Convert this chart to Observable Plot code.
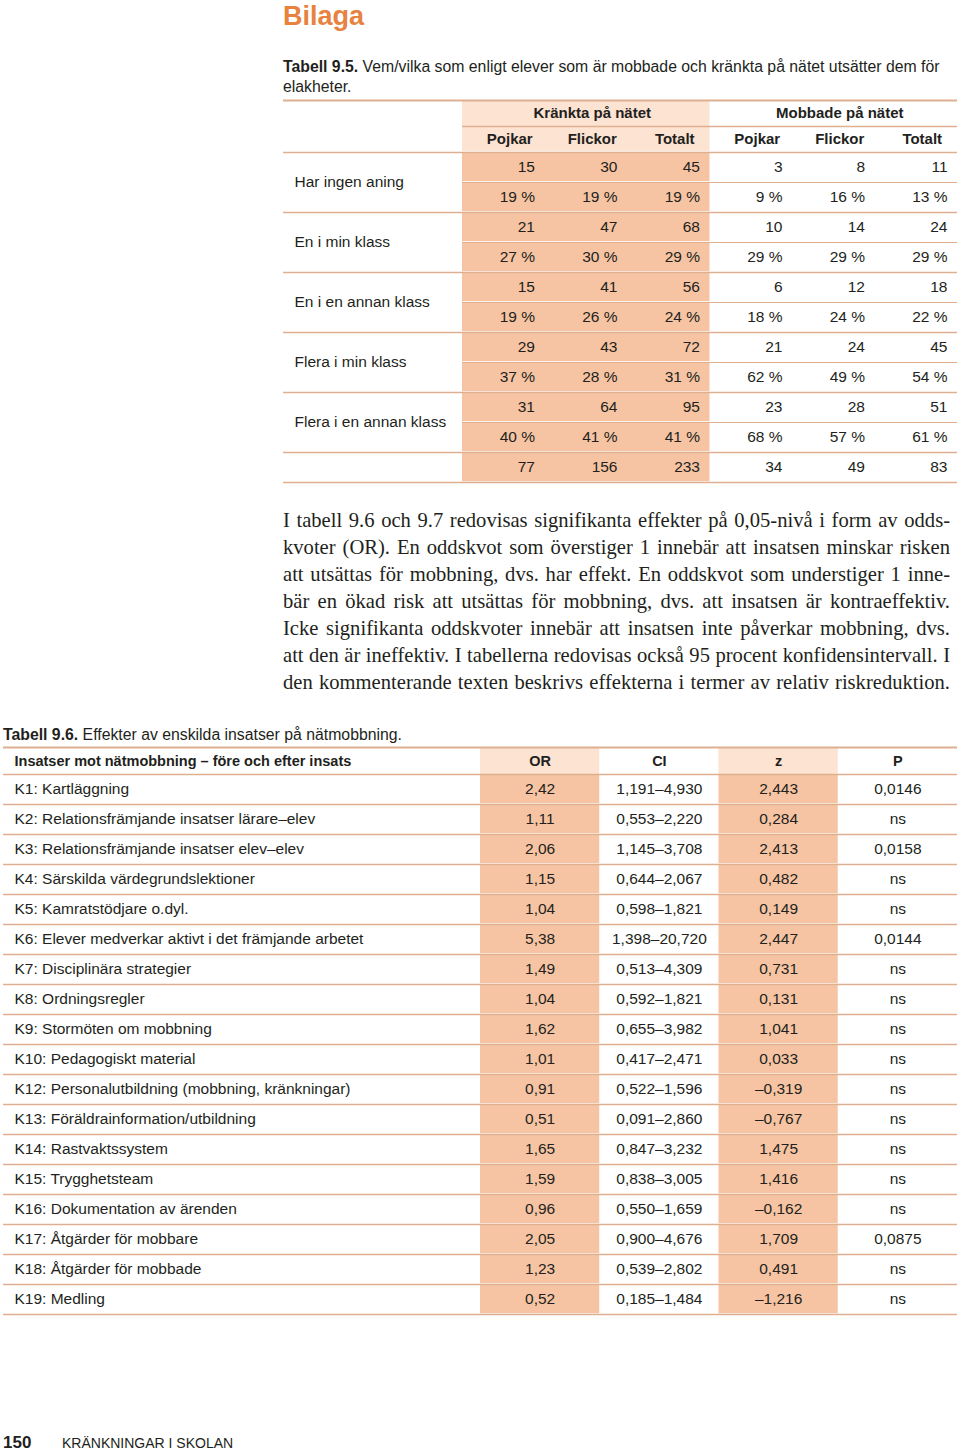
<!DOCTYPE html>
<html><head><meta charset="utf-8">
<script src="https://cdn.jsdelivr.net/npm/d3@7"></script>
<script src="https://cdn.jsdelivr.net/npm/@observablehq/plot@0.6"></script>
<style>
body{margin:0;background:#fff;}
#page{position:relative;width:960px;height:1455px;overflow:hidden;font-family:"Liberation Sans",Arial,sans-serif;color:#231f20;}
.abs{position:absolute;}
.abs svg{display:block;}
#title{left:283px;top:0px;font-size:27px;font-weight:bold;color:#e8823f;line-height:32px;}
#cap5{left:283px;top:57px;width:676px;font-size:15.8px;line-height:20px;}
#cap6{left:3px;top:725px;width:900px;font-size:15.8px;line-height:20px;}
#para{left:283px;top:507px;width:667px;font-family:"Liberation Serif","DejaVu Serif",serif;font-size:20.6px;line-height:27px;}
#para div{text-align:justify;text-align-last:justify;white-space:nowrap;}
#foot{left:3px;top:1433px;font-size:14px;line-height:20px;}
#foot b{font-size:17px;display:inline-block;width:59px;}
</style></head><body><div id="page">
<div id="title" class="abs">Bilaga</div>
<div id="cap5" class="abs"><b>Tabell 9.5.</b> Vem/vilka som enligt elever som är mobbade och kränkta på nätet utsätter dem för<br>elakheter.</div>
<div id="t5h" class="abs" style="left:0;top:99px"></div>
<div id="t5b" class="abs" style="left:0;top:151px"></div>
<div id="para" class="abs">
<div>I tabell 9.6 och 9.7 redovisas signifikanta effekter på 0,05-nivå i form av odds-</div>
<div>kvoter (OR). En oddskvot som överstiger 1 innebär att insatsen minskar risken</div>
<div>att utsättas för mobbning, dvs. har effekt. En oddskvot som understiger 1 inne-</div>
<div>bär en ökad risk att utsättas för mobbning, dvs. att insatsen är kontraeffektiv.</div>
<div>Icke signifikanta oddskvoter innebär att insatsen inte påverkar mobbning, dvs.</div>
<div>att den är ineffektiv. I tabellerna redovisas också 95 procent konfidensintervall. I</div>
<div>den kommenterande texten beskrivs effekterna i termer av relativ riskreduktion.</div>
</div>
<div id="cap6" class="abs"><b>Tabell 9.6.</b> Effekter av enskilda insatser på nätmobbning.</div>
<div id="t6h" class="abs" style="left:0;top:746px"></div>
<div id="t6b" class="abs" style="left:0;top:773px"></div>
<div id="foot" class="abs"><b>150</b>KRÄNKNINGAR I SKOLAN</div>
</div>
<script>
// ---------- Table 9.5 data ----------
const sections = ["Kränkta på nätet", "Mobbade på nätet"];
const subCols = ["Pojkar", "Flickor", "Totalt"];
const groups = ["Har ingen aning", "En i min klass", "En i en annan klass", "Flera i min klass", "Flera i en annan klass"];
const counts = [
  [15, 30, 45, 3, 8, 11],
  [21, 47, 68, 10, 14, 24],
  [15, 41, 56, 6, 12, 18],
  [29, 43, 72, 21, 24, 45],
  [31, 64, 95, 23, 28, 51]
];
const percents = [
  [19, 19, 19, 9, 16, 13],
  [27, 30, 29, 29, 29, 29],
  [19, 26, 24, 18, 24, 22],
  [37, 28, 31, 62, 49, 54],
  [40, 41, 41, 68, 57, 61]
];
const totals = [77, 156, 233, 34, 49, 83];

// ---------- Table 9.6 data ----------
const insatsHeader = "Insatser mot nätmobbning – före och efter insats";
const statCols = ["OR", "CI", "z", "P"];
const insatser = ["K1: Kartläggning", "K2: Relationsfrämjande insatser lärare–elev", "K3: Relationsfrämjande insatser elev–elev", "K4: Särskilda värdegrundslektioner", "K5: Kamratstödjare o.dyl.", "K6: Elever medverkar aktivt i det främjande arbetet", "K7: Disciplinära strategier", "K8: Ordningsregler", "K9: Stormöten om mobbning", "K10: Pedagogiskt material", "K12: Personalutbildning (mobbning, kränkningar)", "K13: Föräldrainformation/utbildning", "K14: Rastvaktssystem", "K15: Trygghetsteam", "K16: Dokumentation av ärenden", "K17: Åtgärder för mobbare", "K18: Åtgärder för mobbade", "K19: Medling"];
const oddsRatio = [2.42, 1.11, 2.06, 1.15, 1.04, 5.38, 1.49, 1.04, 1.62, 1.01, 0.91, 0.51, 1.65, 1.59, 0.96, 2.05, 1.23, 0.52];
const ciLow = [1.191, 0.553, 1.145, 0.644, 0.598, 1.398, 0.513, 0.592, 0.655, 0.417, 0.522, 0.091, 0.847, 0.838, 0.550, 0.900, 0.539, 0.185];
const ciHigh = [4.930, 2.220, 3.708, 2.067, 1.821, 20.720, 4.309, 1.821, 3.982, 2.471, 1.596, 2.860, 3.232, 3.005, 1.659, 4.676, 2.802, 1.484];
const zValue = [2.443, 0.284, 2.413, 0.482, 0.149, 2.447, 0.731, 0.131, 1.041, 0.033, -0.319, -0.767, 1.475, 1.416, -0.162, 1.709, 0.491, -1.216];
const pValue = [0.0146, null, 0.0158, null, null, 0.0144, null, null, null, null, null, null, null, null, null, 0.0875, null, null];

// ---------- styles ----------
const INK = "#231f20";
const SHADE = "#f6c4a2";
const LIGHT = "#fce3d2";
const LINE = "#dfb08f";
const FONT = {fontFamily: "'Liberation Sans', Arial, sans-serif", fontSize: "15.5px", color: INK, background: "transparent", overflow: "visible"};

const loc = d3.formatLocale({decimal: ",", thousands: "\u00a0", grouping: [3], currency: ["", " kr"], minus: "\u2013"});
const f2 = loc.format(".2f"), f3 = loc.format(".3f"), f4 = loc.format(".4f");

// ---------- Table 9.5 ----------
const nCols = sections.length * subCols.length;
const rows5 = [];
groups.forEach((g, i) => { rows5.push(counts[i].map(String)); rows5.push(percents[i].map(v => v + "\u00a0%")); });
rows5.push(totals.map(String));
const cells5 = rows5.flatMap((vals, r) => vals.map((label, c) => ({r, c, label})));
const shadeRows5 = d3.range(rows5.length);
const fullRules5 = d3.range(rows5.length + 1).filter(i => i % 2 === 0 || i === rows5.length);
const partRules5 = d3.range(rows5.length).filter(i => i % 2 === 1);
const x5 = {type: "linear", domain: [0, nCols], range: [462, 957], axis: null};

const head5 = Plot.plot({
  width: 960, height: 54, marginLeft: 283, marginRight: 3, marginTop: 1, marginBottom: 1,
  style: FONT,
  x: x5, y: {domain: [0, 2], reverse: true, axis: null},
  marks: [
    Plot.rect([0], {x1: () => 0, x2: () => subCols.length, y1: () => 0, y2: () => 2, fill: LIGHT, insetBottom: 0.8}),
    Plot.ruleY([0], {y: d => d, stroke: LINE, strokeWidth: 2}),
    Plot.ruleY([1], {y: d => d, x1: () => 0, x2: () => nCols, stroke: LINE, strokeWidth: 1.5}),
    Plot.text(sections, {x: (d, i) => i * subCols.length + subCols.length / 2, y: () => 0.5, text: d => d, fontWeight: "bold", fontSize: 15, dx: 6}),
    Plot.text(d3.range(nCols), {x: c => c + 0.5, y: () => 1.5, text: c => subCols[c % subCols.length], fontWeight: "bold", fontSize: 15, dx: 6})
  ]
});
document.getElementById("t5h").appendChild(head5);

const body5 = Plot.plot({
  width: 960, height: rows5.length * 30 + 3, marginLeft: 283, marginRight: 3, marginTop: 1, marginBottom: 2,
  style: FONT,
  x: x5, y: {domain: [0, rows5.length], reverse: true, axis: null},
  marks: [
    Plot.rect(shadeRows5, {x1: () => 0, x2: () => subCols.length, y1: r => r, y2: r => r + 1, fill: SHADE, insetTop: 0.8, insetBottom: 0.8}),
    Plot.ruleY(fullRules5, {y: d => d, stroke: LINE, strokeWidth: 1.5}),
    Plot.ruleY(partRules5, {y: d => d, x1: () => 0, x2: () => nCols, stroke: LINE, strokeWidth: 1.2}),
    Plot.text(cells5, {x: d => d.c + 1, y: d => d.r + 0.5, text: "label", textAnchor: "end", dx: -10}),
    Plot.text(groups, {y: (d, i) => 2 * i + 1, text: d => d, frameAnchor: "left", textAnchor: "start", dx: 11})
  ]
});
document.getElementById("t5b").appendChild(body5);

// ---------- Table 9.6 ----------
const rows6 = insatser.map((name, i) => ({
  name,
  vals: [f2(oddsRatio[i]), f3(ciLow[i]) + "\u2013" + f3(ciHigh[i]), f3(zValue[i]), pValue[i] == null ? "ns" : f4(pValue[i])]
}));
const cells6 = rows6.flatMap((row, r) => row.vals.map((label, c) => ({r, c, label})));
const shadedCols6 = [0, 2];
const shade6 = d3.range(rows6.length).flatMap(r => shadedCols6.map(c => ({r, c})));
const x6 = {type: "linear", domain: [0, statCols.length], range: [480, 957], axis: null};

const head6 = Plot.plot({
  width: 960, height: 29, marginLeft: 3, marginRight: 3, marginTop: 1, marginBottom: 1,
  style: FONT,
  x: x6, y: {domain: [0, 1], reverse: true, axis: null},
  marks: [
    Plot.rect(shadedCols6, {x1: c => c, x2: c => c + 1, y1: () => 0, y2: () => 1, fill: LIGHT, insetTop: 0.8}),
    Plot.ruleY([0], {y: d => d, stroke: LINE, strokeWidth: 2}),
    Plot.text(statCols, {x: (d, i) => i + 0.5, y: () => 0.5, text: d => d, fontWeight: "bold", fontSize: 14.5}),
    Plot.text([insatsHeader], {y: () => 0.5, text: d => d, fontWeight: "bold", fontSize: 14.5, frameAnchor: "left", textAnchor: "start", dx: 11})
  ]
});
document.getElementById("t6h").appendChild(head6);

const body6 = Plot.plot({
  width: 960, height: rows6.length * 30 + 3, marginLeft: 3, marginRight: 3, marginTop: 1, marginBottom: 2,
  style: FONT,
  x: x6, y: {domain: [0, rows6.length], reverse: true, axis: null},
  marks: [
    Plot.rect(shade6, {x1: d => d.c, x2: d => d.c + 1, y1: d => d.r, y2: d => d.r + 1, fill: SHADE, insetTop: 0.8, insetBottom: 0.8}),
    Plot.ruleY(d3.range(rows6.length + 1), {y: d => d, stroke: LINE, strokeWidth: 1.5}),
    Plot.text(cells6, {x: d => d.c + 0.5, y: d => d.r + 0.5, text: "label"}),
    Plot.text(rows6, {y: (d, i) => i + 0.5, text: "name", frameAnchor: "left", textAnchor: "start", dx: 11})
  ]
});
document.getElementById("t6b").appendChild(body6);
</script>
</body></html>
